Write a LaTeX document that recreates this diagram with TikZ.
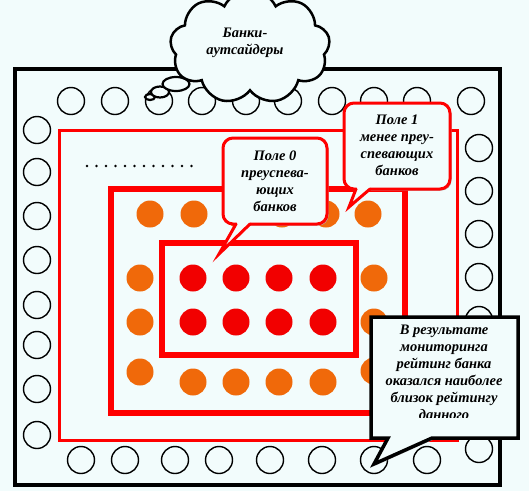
\documentclass[tikz,border=0pt]{standalone}
\usepackage{fontspec}
\setmainfont{Liberation Serif}
\usetikzlibrary{shapes.callouts,shapes.symbols,shapes.geometric,shadows}
\definecolor{bg}{HTML}{F2FCFC}
\definecolor{org}{HTML}{F0690A}
\definecolor{rd}{HTML}{F20000}
\begin{document}
\begin{tikzpicture}[x=1pt,y=-1pt,
 txt/.style={font=\fontsize{14.5}{17}\selectfont\bfseries\itshape, align=center, inner sep=0pt},
 bc/.style={circle, draw=black, line width=1.4pt, fill=bg, minimum size=27pt, inner sep=0pt},
 oc/.style={circle, fill=org, minimum size=27pt, inner sep=0pt},
 rc/.style={circle, fill=rd, minimum size=27pt, inner sep=0pt},
 box/.style={rectangle, inner sep=0pt, fill=bg},
 shd/.style={drop shadow={shadow xshift=1.5pt, shadow yshift=-1.5pt, fill=gray!60, opacity=1}},
 redline/.style={draw=red, line width=3pt, line cap=round},
 bub/.style={ellipse, draw=black, line width=2.2pt, fill=bg, inner sep=0pt},
]
\useasboundingbox (0,0) rectangle (529,491);
\fill[bg] (0,0) rectangle (529,491);
% outer frame
\node[box, draw=black, line width=3.5pt, shd, minimum width=485pt, minimum height=416pt] (frame) at (257.5,277) {};
% outsider banks
\foreach \x [count=\i] in {71,115,159,202,246,288,332,374,417,471} \node[bc] (t\i) at (\x,101) {};
\foreach \y [count=\i] in {130,172,216,260,305,345,389,435} \node[bc] (l\i) at (37,\y) {};
\foreach \y [count=\i] in {148,191,234,277,320,363,406,449} \node[bc] (r\i) at (479,\y) {};
\foreach \x [count=\i] in {81,125,175,219,270,322,374,427} \node[bc] (b\i) at (\x,460) {};
% fields
\node[box, draw=red, line width=3pt, shd, minimum width=398pt, minimum height=310pt] (f2) at (258,285) {};
\node[box, draw=red, line width=5.5pt, shd, minimum width=294pt, minimum height=224pt] (f1) at (258,301) {};
\node[box, draw=red, line width=6pt, shd, minimum width=194pt, minimum height=112pt] (f0) at (259,299) {};
% field 1 banks
\foreach \x [count=\i] in {150,194,238,282,326,368} \node[oc] (ot\i) at (\x,214) {};
\foreach \y [count=\i] in {278,322,372} \node[oc] (ol\i) at (140,\y) {};
\foreach \y [count=\i] in {278,322,371} \node[oc] (or\i) at (374,\y) {};
\foreach \x [count=\i] in {193,236,279,323} \node[oc] (ob\i) at (\x,382) {};
% field 0 banks
\foreach \x [count=\i] in {193,236,279,323} {
  \node[rc] (ra\i) at (\x,278) {};
  \node[rc] (rb\i) at (\x,322) {};
}
% dots
\foreach \i in {0,...,11} \fill[black] (87+\i*9.5,166) circle (1.3pt);
% callout: field 1
\coordinate (p1) at (349,207);
\fill[bg, shd, rounded corners=10pt] (344,103) rectangle (450,189);
\fill[bg] (356,188) -- (p1) -- (370,188) -- cycle;
\draw[redline, rounded corners=10pt] (370,189) -- (450,189) -- (450,103) -- (344,103) -- (344,189) -- (356,189);
\draw[redline] (356,189) -- (p1) -- (370,189);
\node[txt] (c1) at (397,145) {Поле 1\\менее преу-\\спевающих\\банков};
% callout: field 0
\coordinate (p0) at (219,254);
\fill[bg, shd, rounded corners=10pt] (223,138) rectangle (327,224);
\fill[bg] (236,223) -- (p0) -- (250,223) -- cycle;
\draw[redline, rounded corners=10pt] (250,224) -- (327,224) -- (327,138) -- (223,138) -- (223,224) -- (236,224);
\draw[redline] (236,224) -- (p0) -- (250,224);
\node[txt] (c0) at (275,181) {Поле 0\\преуспева-\\ющих\\банков};
% callout: result
\coordinate (p4) at (374,464);
\draw[black, line width=3.5pt, fill=bg, shd] (371,317) -- (518,317) -- (518,438) -- (432,438) -- (p4) -- (388,438) -- (371,438) -- cycle;
\begin{scope}
\clip (371,317) rectangle (518,417);
\node[txt] (c4) at (444,372) {В результате\\мониторинга\\рейтинг банка\\оказался наиболее\\близок рейтингу\\данного};
\end{scope}
% cloud
\node[bub, minimum width=10pt, minimum height=6pt] (e3) at (150,97) {};
\node[bub, minimum width=18pt, minimum height=11pt] (e2) at (160,92) {};
\node[bub, minimum width=27pt, minimum height=14pt] (e1) at (176,84) {};
\node[cloud, draw=black, line width=2.5pt, fill=bg, cloud puffs=9, cloud puff arc=130,
  cloud ignores aspect, minimum width=160pt, minimum height=114pt] (cloud) at (250,47) {};
\node[txt] (ct) at (245,43) {Банки-\\аутсайдеры};
\end{tikzpicture}
\end{document}
